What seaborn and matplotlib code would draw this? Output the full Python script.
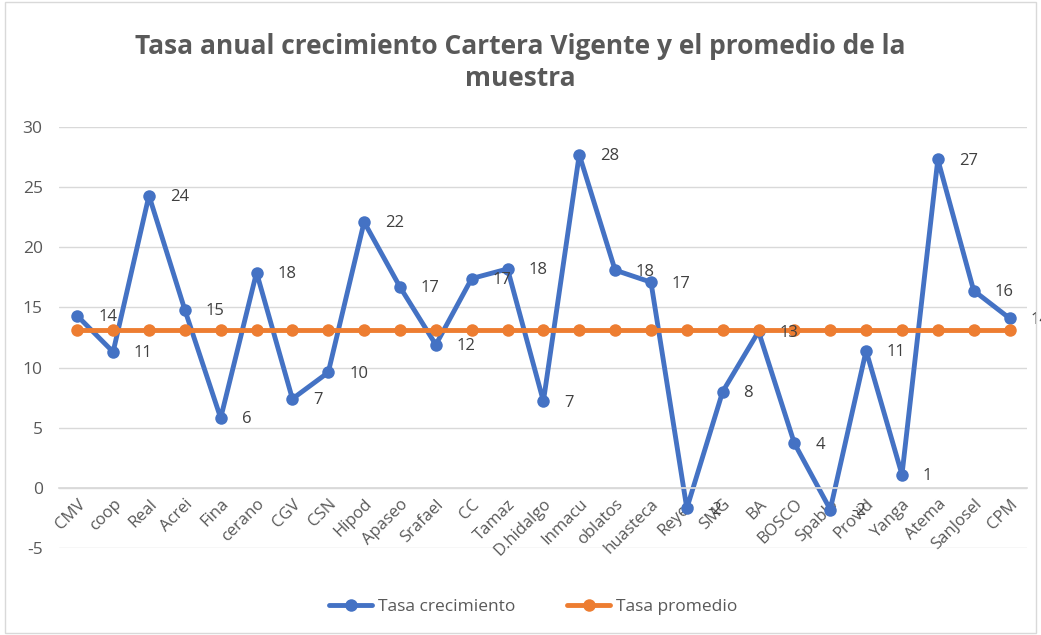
import matplotlib
matplotlib.use("Agg")
import matplotlib.pyplot as plt
import seaborn as sns
import pandas as pd
import numpy as np
from matplotlib.patches import Rectangle

categories = ["CMV", "coop", "Real", "Acrei", "Fina", "cerano", "CGV", "CSN", "Hipod",
              "Apaseo", "Srafael", "CC", "Tamaz", "D.hidalgo", "Inmacu", "oblatos",
              "huasteca", "Reyes", "SMG", "BA", "BOSCO", "Spablo", "Provid", "Yanga",
              "Atema", "SanJosel", "CPM"]
tasa_crecimiento = [14.3, 11.3, 24.3, 14.8, 5.8, 17.9, 7.4, 9.6, 22.1, 16.7, 11.9, 17.4,
                    18.2, 7.2, 27.7, 18.1, 17.1, -1.7, 8.0, 13.0, 3.7, -1.8, 11.4, 1.1,
                    27.3, 16.4, 14.1]
tasa_promedio = [13.1] * len(categories)
y_ticks = [-5, 0, 5, 10, 15, 20, 25, 30]

BLUE = "#4472C4"
ORANGE = "#ED7D31"
GRAY = "#595959"

sns.set_theme(style="white")
plt.rcParams["font.family"] = ["Open Sans", "DejaVu Sans"]

fig = plt.figure(figsize=(10.41, 6.35), dpi=100)
ax = fig.add_axes([0.057, 0.137, 0.930, 0.663])

pos = np.arange(len(categories))
df = pd.DataFrame({
    "pos": np.concatenate([pos, pos]),
    "valor": tasa_crecimiento + tasa_promedio,
    "serie": ["Tasa crecimiento"] * len(categories) + ["Tasa promedio"] * len(categories),
})

sns.lineplot(data=df, x="pos", y="valor", hue="serie",
             palette={"Tasa crecimiento": BLUE, "Tasa promedio": ORANGE},
             marker="o", markersize=9, markeredgewidth=0, linewidth=3.5,
             ax=ax, legend=True, sort=False)

# data labels for growth series
for x, v in zip(pos, tasa_crecimiento):
    ax.annotate(f"{int(round(v))}", (x, v), xytext=(15, -1), textcoords="offset points",
                ha="left", va="center", fontsize=12, color="#404040",
                annotation_clip=False)

ax.set_xlim(-0.5, len(categories) - 0.5)
ax.set_ylim(-5, 30)
ax.set_yticks(y_ticks)
ax.set_yticklabels([str(t) for t in y_ticks], fontsize=12.5, color=GRAY)
ax.yaxis.grid(True, color="#D9D9D9", linewidth=1)
ax.set_axisbelow(True)

ax.spines["bottom"].set_position(("data", 0))
ax.spines["bottom"].set_color("#D9D9D9")
for s in ["top", "right", "left"]:
    ax.spines[s].set_visible(False)

ax.set_xticks(pos)
ax.set_xticklabels(categories, rotation=45, ha="right", rotation_mode="anchor",
                   fontsize=12, color=GRAY)
ax.tick_params(axis="x", length=0, pad=6)
ax.tick_params(axis="y", length=0, pad=12)
ax.set_xlabel("")
ax.set_ylabel("")

leg = ax.legend(loc="upper center", ncol=2,
                frameon=False, fontsize=12.5, handlelength=2.5, columnspacing=3,
                handletextpad=0.3)
for t in leg.get_texts():
    t.set_color(GRAY)
leg.set_bbox_to_anchor((0.512, 0.082), transform=fig.transFigure)

fig.suptitle("Tasa anual crecimiento Cartera Vigente y el promedio de la\nmuestra",
             y=0.948, va="top", fontsize=19, fontweight="bold", color=GRAY, linespacing=1.25)

fig.patches.append(Rectangle((0.005, 0.003), 0.99, 0.994, transform=fig.transFigure,
                             fill=False, edgecolor="#D9D9D9", linewidth=1))

fig.savefig("out.png", dpi=100)
